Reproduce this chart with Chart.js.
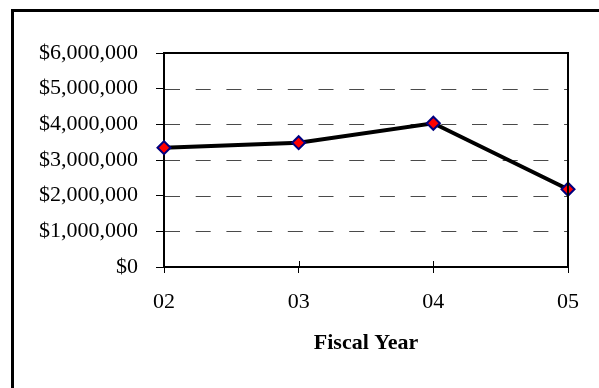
<!DOCTYPE html>
<html lang="en">
<head>
  <meta charset="UTF-8" />
  <title>Fiscal Year</title>
  <script src="https://cdn.jsdelivr.net/npm/chart.js"></script>
  <style>
    html, body {
      margin: 0;
      padding: 0;
      background: #fff;
      overflow: hidden;
    }
    .wrap {
      position: relative;
      width: 599px;
      height: 388px;
    }
    /* outer frame, cropped at right and bottom like the picture */
    .frame {
      position: absolute;
      left: 11px;
      top: 9px;
      width: 700px;
      height: 500px;
      border-top: 3px solid #000;
      border-left: 3px solid #000;
      pointer-events: none;
    }
    canvas {
      position: absolute;
      left: 0;
      top: 0;
    }
  </style>
</head>
<body>
  <div class="wrap">
    <canvas id="lineChart" width="599" height="388"></canvas>
    <div class="frame"></div>
  </div>

<script>
  const years = ['02', '03', '04', '05'];
  const amounts = [3345000, 3485000, 4030000, 2180000];
  const yTicks = [0, 1000000, 2000000, 3000000, 4000000, 5000000, 6000000];

  const serif = "'Liberation Serif', 'Times New Roman', serif";

  // dashed gridlines, started right at the left axis so the dash phase matches
  const dashGrid = {
    id: 'dashGrid',
    beforeDatasetsDraw(chart) {
      const { ctx, chartArea } = chart;
      const ys = chart.scales.y;
      ctx.save();
      ctx.strokeStyle = '#4a4a4a';
      ctx.lineWidth = 1;
      ctx.setLineDash([15, 15.7]);
      ys.ticks.forEach(t => {
        if (t.value === ys.min || t.value === ys.max) return;
        const py = Math.round(ys.getPixelForValue(t.value)) + 0.5;
        ctx.beginPath();
        ctx.moveTo(chartArea.left + 1, py);
        ctx.lineTo(chartArea.right, py);
        ctx.stroke();
      });
      ctx.restore();
    }
  };

  // top/right edge of plot area plus the part of the x ticks inside the plot
  const plotFrame = {
    id: 'plotFrame',
    afterDraw(chart) {
      const { ctx, chartArea } = chart;
      const xs = chart.scales.x;
      ctx.save();
      ctx.strokeStyle = '#000';
      ctx.lineWidth = 2;
      ctx.beginPath();
      ctx.moveTo(chartArea.left, chartArea.top);
      ctx.lineTo(chartArea.right, chartArea.top);
      ctx.lineTo(chartArea.right, chartArea.bottom);
      ctx.stroke();
      ctx.lineWidth = 1;
      ctx.beginPath();
      xs.ticks.forEach((t, i) => {
        const px = Math.round(xs.getPixelForTick(i)) + 0.5;
        ctx.moveTo(px, chartArea.bottom);
        ctx.lineTo(px, chartArea.bottom - 6);
      });
      ctx.stroke();
      ctx.restore();
    }
  };

  new Chart(document.getElementById('lineChart'), {
    type: 'line',
    data: {
      labels: years,
      datasets: [{
        data: amounts,
        borderColor: '#000',
        borderWidth: 4,
        tension: 0,
        pointStyle: 'rectRot',
        pointRadius: 6.5,
        pointBackgroundColor: '#ff0000',
        pointBorderColor: '#000080',
        pointBorderWidth: 2
      }]
    },
    options: {
      responsive: false,
      animation: false,
      events: [],
      layout: { padding: { left: 0, top: 53, right: 31, bottom: 0 } },
      plugins: {
        legend: { display: false },
        tooltip: { enabled: false }
      },
      scales: {
        x: {
          offset: false,
          afterFit: s => { s.height = 121; },
          border: { color: '#000', width: 2 },
          grid: {
            drawOnChartArea: false,
            tickLength: 6,
            tickColor: '#000',
            tickWidth: 1
          },
          ticks: {
            color: '#000',
            padding: 16,
            font: { family: serif, size: 22 }
          },
          title: {
            display: true,
            text: 'Fiscal Year',
            color: '#000',
            padding: { top: 0, bottom: 31 },
            font: { family: serif, size: 22, weight: 'bold' }
          }
        },
        y: {
          min: 0,
          max: 6000000,
          afterFit: s => { s.width = 164; },
          afterBuildTicks: s => { s.ticks = yTicks.map(v => ({ value: v })); },
          border: { color: '#000', width: 2 },
          grid: {
            drawOnChartArea: false,
            tickLength: 8,
            tickColor: '#000',
            tickWidth: 1
          },
          ticks: {
            color: '#000',
            padding: 18,
            font: { family: serif, size: 22 },
            callback: v => '$' + Number(v).toLocaleString('en-US')
          }
        }
      }
    },
    plugins: [dashGrid, plotFrame]
  });
</script>
</body>
</html>
